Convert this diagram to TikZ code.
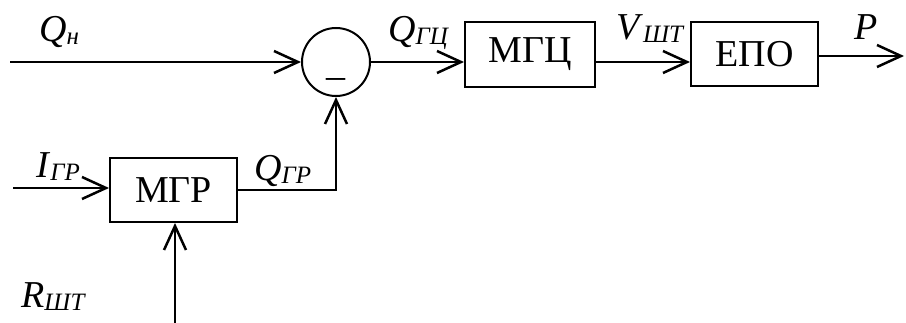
\documentclass[tikz,border=0pt]{standalone}
\usepackage{fontspec}
\setmainfont{Liberation Serif}
\usetikzlibrary{arrows.meta,positioning,calc}

\newcommand{\sig}[2]{\textit{#1}\raisebox{-3pt}{\fontsize{25}{27}\selectfont\textit{#2}}}

\begin{document}
\begin{tikzpicture}[x=1pt,y=-1pt,
  font=\fontsize{38}{42}\selectfont,
  >={Straight Barb[length=24pt,width=22pt,line width=2.5pt]},
  line width=2.5pt,
  block/.style={draw,line width=2pt,minimum width=127pt,minimum height=64pt,inner sep=0pt},
  summ/.style={draw,circle,line width=2pt,minimum size=68pt,inner sep=0pt},
  lbl/.style={anchor=base west,inner sep=0pt}]

  \useasboundingbox (0,0) rectangle (906,323);

  \node[summ] (s) at (336,62) {};
  \node[anchor=base,inner sep=0pt] (minus) at (336,76) {\_};
  \node[block,minimum width=130pt,minimum height=65pt] (mgc) at (530,54.5) {МГЦ};
  \node[block] (epo) at (754.5,54.5) {ЕПО};
  \node[block] (mgr) at (173.5,190) {МГР};

  \coordinate (qin) at (10,62);
  \coordinate (iin) at (13,188);
  \coordinate (rin) at (175,323);
  \coordinate (pout) at (904,56);

  \draw[->] (qin) -- (s.west);
  \draw[->] (s.east) -- (s.east -| mgc.west);
  \draw[->] (mgc.east |- s) -- (epo.west |- s);
  \draw[->] (epo.east |- pout) -- (pout);
  \draw[->] (iin) -- (iin -| mgr.west);
  \draw[->] (rin) -- (rin |- mgr.south);
  \draw[->,line width=1.3pt] (mgr.east) -| (s.south);

  \node[lbl] (lqn) at (38,42) {\sig{Q}{н}};
  \node[lbl] (lqgc) at (387,42) {\sig{Q}{ГЦ}};
  \node[lbl] (lv) at (615,40) {\sig{V}{ШТ}};
  \node[lbl] (lp) at (853,40) {\textit{P}};
  \node[lbl] (li) at (35,178) {\sig{I}{ГР}};
  \node[lbl] (lqgr) at (253,181) {\sig{Q}{ГР}};
  \node[lbl] (lr) at (20,308) {\sig{R}{ШТ}};

\end{tikzpicture}
\end{document}
